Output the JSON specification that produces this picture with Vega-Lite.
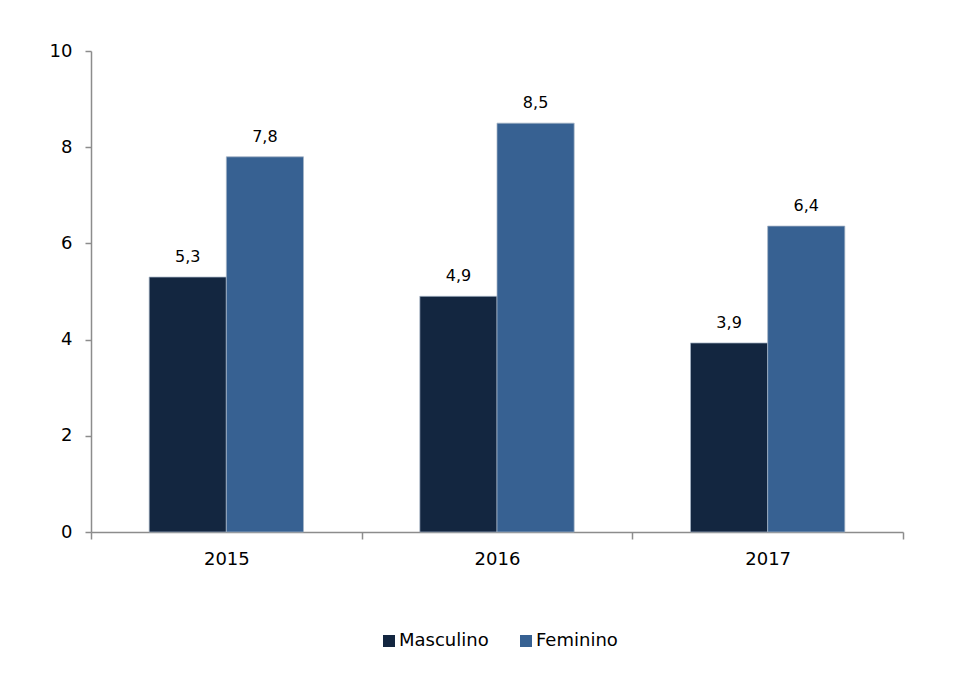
{
  "$schema": "https://vega.github.io/schema/vega-lite/v6.json",
  "autosize": "none",
  "width": 812,
  "height": 481,
  "padding": {"left": 91, "top": 51, "right": 52, "bottom": 160},
  "background": "#ffffff",
  "config": {
    "view": {"stroke": null},
    "font": "DejaVu Sans",
    "locale": {"number": {"decimal": ",", "thousands": ".", "grouping": [3], "currency": ["R$", ""]}},
    "axis": {"labelFont": "DejaVu Sans", "labelFontSize": 18, "labelColor": "#000000", "domainColor": "#8c8c8c", "tickColor": "#8c8c8c", "domainWidth": 1.5, "tickWidth": 1.5, "title": null, "grid": false}
  },
  "data": {"values": [
    {"ano": "2015", "sexo": "Masculino", "valor": 5.3},
    {"ano": "2015", "sexo": "Feminino", "valor": 7.8},
    {"ano": "2016", "sexo": "Masculino", "valor": 4.9},
    {"ano": "2016", "sexo": "Feminino", "valor": 8.5},
    {"ano": "2017", "sexo": "Masculino", "valor": 3.93},
    {"ano": "2017", "sexo": "Feminino", "valor": 6.36}
  ]},
  "encoding": {
    "x": {"field": "ano", "type": "nominal", "scale": {"paddingInner": 0, "paddingOuter": 0},
      "axis": {"labelAngle": 0, "tickBand": "extent", "tickSize": 7, "labelPadding": 11}},
    "xOffset": {"field": "sexo", "type": "nominal", "sort": ["Masculino", "Feminino"], "scale": {"paddingInner": 0, "paddingOuter": 0.754}},
    "y": {"field": "valor", "type": "quantitative", "scale": {"domain": [0, 10], "nice": false},
      "axis": {"values": [0, 2, 4, 6, 8, 10], "tickSize": 6, "labelPadding": 13, "format": "d"}}
  },
  "layer": [
    {
      "mark": {"type": "bar", "stroke": "#a6b4c6", "strokeWidth": 0.75},
      "encoding": {
        "color": {"field": "sexo", "type": "nominal", "sort": ["Masculino", "Feminino"],
          "scale": {"domain": ["Masculino", "Feminino"], "range": ["#132640", "#376192"]},
          "legend": {"title": null, "orient": "none", "legendX": 289, "legendY": 581, "direction": "horizontal", "symbolType": "square", "symbolSize": 144, "symbolStrokeWidth": 0, "labelFontSize": 18, "labelFont": "DejaVu Sans", "labelColor": "#000000", "labelOffset": 1, "columnPadding": 28}
        }
      }
    },
    {
      "mark": {"type": "text", "baseline": "alphabetic", "dy": -15, "fontSize": 16, "font": "DejaVu Sans", "color": "#000000"},
      "encoding": {"text": {"field": "valor", "type": "quantitative", "format": ".1f"}}
    }
  ]
}
